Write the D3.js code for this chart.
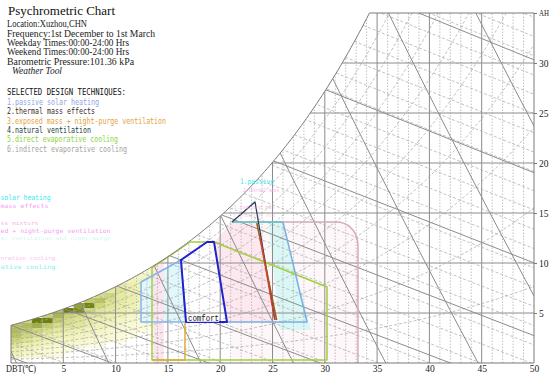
<!DOCTYPE html>
<html><head><meta charset="utf-8">
<script src="https://cdn.jsdelivr.net/npm/d3@7"></script>
<style>body{margin:0;background:#fff;}svg{display:block;}</style>
</head><body>
<svg id="c" width="550" height="377"></svg>
<script>
// ---------------- DATA ----------------
const titleText = "Psychrometric Chart";
const infoLines = ["Location:Xuzhou,CHN","Frequency:1st December to 1st March","Weekday Times:00:00-24:00 Hrs","Weekend Times:00:00-24:00 Hrs","Barometric Pressure:101.36 kPa"];
const toolText = "Weather Tool";
const techHeader = "SELECTED DESIGN TECHNIQUES:";
const techniques = ["1.passive solar heating","2.thermal mass effects","3.exposed mass + night-purge ventilation","4.natural ventilation","5.direct evaporative cooling","6.indirect evaporative cooling"];
const dbtTicks = [5,10,15,20,25,30,35,40,45,50];
const ahTicks = [5,10,15,20,25,30,35];
const ahTickLabels = ["5","10","15","20","25","30","AH"];
const pressure = 101.36;               // kPa
const rhLevels = [10,20,30,40,50,60,70,80,90];
const satTempMajor = [-15,-10,-5,0,5,10,15,20,25,30,35,40,45];   // solid enthalpy lines (saturation temp)
const enthalpyMinor = d3.range(-20,200,5);                         // dashed enthalpy lines, kJ/kg
const volumeLevels = [0.775,0.8,0.825,0.85,0.875,0.9,0.925,0.95];

// hourly frequency bins (DBT lower edge 1°C, AH lower edge 0.5 g/kg)
const binT = [0,1,2,3,4,5,6,7,8,9,10,11,12,13,14,15];
const binW = [0.5,1.0,1.5,2.0,2.5,3.0,3.5,4.0,4.5,5.0,5.5,6.0,6.5,7.0,7.5,8.0,8.5,9.0];
const hours = [
 [6,4,3,2,1,0,0,0,0,0,0,0,0,0,0,0],
 [9,6,4,3,2,1,0,0,0,0,0,0,0,0,0,0],
 [12,9,7,5,4,3,2,1,1,0,0,0,0,0,0,0],
 [18,14,10,8,6,5,4,3,2,1,1,0,0,0,0,0],
 [24,18,14,10,9,7,6,5,4,3,2,1,0,0,0,0],
 [26,22,18,15,12,10,8,6,5,4,3,2,1,0,0,0],
 [24,26,30,22,16,14,12,9,7,5,4,3,2,1,0,0],
 [0,18,44,46,22,16,14,11,9,7,5,4,3,2,1,0],
 [0,0,0,20,28,20,16,13,11,9,7,5,4,3,2,0],
 [0,0,0,0,24,44,40,18,13,11,9,7,5,4,3,1],
 [0,0,0,0,0,0,34,42,18,13,10,8,6,4,3,1],
 [0,0,0,0,0,0,0,22,24,15,11,9,7,5,3,2],
 [0,0,0,0,0,0,0,0,16,18,11,9,7,5,4,2],
 [0,0,0,0,0,0,0,0,0,11,13,9,7,5,4,2],
 [0,0,0,0,0,0,0,0,0,0,9,9,7,5,4,2],
 [0,0,0,0,0,0,0,0,0,0,0,7,7,5,4,2],
 [0,0,0,0,0,0,0,0,0,0,0,0,5,5,4,2],
 [0,0,0,0,0,0,0,0,0,0,0,0,0,4,4,2]
];

// design zones [DBT °C, AH g/kg]
const comfortZone = [[16.25,10.3],[18.74,12.1],[19.41,12.1],[20.65,4.1],[16.73,4.1]];
const passiveSolarZone = [[12.43,4.1],[12.43,8.1],[16.25,10.3],[16.73,4.1]];
const passiveSolarRight = [[21.13,14.1],[26.0,14.1],[28.3,4.1],[20.65,4.1]];
const thermalMassEdge = [[23.5,14.0],[25.4,4.3]];
const exposedMassEdge = [[23.8,12.7],[25.2,4.3]];
const exposedMassLeft = [[16.63,4.0],[16.63,0.3],[13.48,0.3]];
const naturalVentZone = [[21.13,14.1],[23.33,16.1],[25.24,4.3]];
const directEvapZone = [[13.48,0.3],[13.48,9.5],[17.11,12.1],[19.41,12.1],[30.21,7.6],[30.21,0.3]];
const indirectEvap = {left:21.13,right:33.17,top:14.1,rT:2.0,rW:2.3};
const pinkShade = [[21.13,14.1],[23.5,14.1],[25.4,4.1],[20.65,4.1],[19.41,12.1]];
const cyanShade = [[24.6,14.1],[26.0,14.1],[28.7,3.3],[25.7,3.3]];
const pinkBand = [[13.6,0],[13.6,9.7],[14.6,10.0],[14.6,0]];

// ---------------- PSYCHROMETRICS ----------------
const pws = T => 0.61078*Math.exp(17.27*T/(T+237.3));
const wFromPw = pw => 622*pw/(pressure-pw);
const wsat = T => wFromPw(pws(T));
const enth = (T,w) => 1.006*T + (w/1000)*(2501+1.86*T);
const wFromH = (T,h) => (h-1.006*T)/(2501+1.86*T)*1000;
const wFromV = (T,v) => ((v*pressure/(0.287042*(T+273.15)))-1)/1.6078*1000;

// ---------------- SCALES ----------------
const x = d3.scaleLinear().domain([0,50]).range([11,534]);
const y = d3.scaleLinear().domain([0,35]).range([363,13]);
const line = d3.line().x(d=>x(d[0])).y(d=>y(d[1]));
const svg = d3.select("#c");
svg.append("rect").attr("width",550).attr("height",377).attr("fill","#fff");

let lo=20, hi=50; for(let i=0;i<60;i++){const m=(lo+hi)/2; if(wsat(m)<35) lo=m; else hi=m;}
const Ttop = lo;
const satPts = d3.range(0,Ttop,0.25).map(T=>[T,wsat(T)]).concat([[Ttop,35]]);
const defs = svg.append("defs");
defs.append("clipPath").attr("id","clip").append("path")
  .attr("d", line(satPts.concat([[50,35],[50,0],[0,0]]))+"Z");
const g = svg.append("g").attr("clip-path","url(#clip)");

// frequency cells
const cellColor = d3.scaleLinear().domain([1,8,20,44]).range(["#fbfbdf","#eff1b2","#c9d272","#6c7e0c"]).clamp(true);
hours.forEach((row,i)=>row.forEach((v,j)=>{
  if(v<=0) return;
  const T=binT[j], w=binW[i];
  g.append("rect").attr("x",x(T)).attr("y",y(w+0.5)).attr("width",x(T+1)-x(T)).attr("height",y(w)-y(w+0.5))
   .attr("fill",cellColor(v));
}));

// zone shading
const poly = (pts,fill,op)=>g.append("path").attr("d",line(pts)+"Z").attr("fill",fill).attr("fill-opacity",op).attr("stroke","none");
const ie = indirectEvap;
const arcPts = d3.range(0,91,10).map(a=>{const r=a*Math.PI/180; return [ie.right-ie.rT+ie.rT*Math.sin(r), ie.top-ie.rW+ie.rW*Math.cos(r)];});
const indirectPts = [[ie.left,ie.top]].concat(arcPts).concat([[ie.right,0]]);
poly(indirectPts.concat([[ie.left,0]]),"#fef7f9",1);
poly(passiveSolarZone,"#e0f7fb",1);
poly(pinkBand,"#fbe6f0",1);
poly(pinkShade,"#fde8ef",1);
poly(cyanShade,"#dbf7f5",1);

// grid
const gridSolid = "#8c8c8c", gridDash = "#a8a8a8";
for(let T=1;T<50;T++){
  g.append("line").attr("x1",x(T)).attr("x2",x(T)).attr("y1",y(0)).attr("y2",y(35))
   .attr("stroke",T%5===0?gridSolid:gridDash).attr("stroke-width",T%5===0?1:0.7)
   .attr("stroke-dasharray",T%5===0?null:"1.5,1.5");
}
ahTicks.forEach(w=>{ if(w<35) g.append("line").attr("x1",x(0)).attr("x2",x(50)).attr("y1",y(w)).attr("y2",y(w)).attr("stroke",gridSolid).attr("stroke-width",1); });
rhLevels.forEach(rh=>{
  const pts = d3.range(0,50.01,0.5).map(T=>[T,wFromPw(rh/100*pws(T))]).filter(d=>d[1]<40);
  g.append("path").attr("d",line(pts)).attr("fill","none").attr("stroke",gridDash).attr("stroke-width",0.7).attr("stroke-dasharray","3,2");
});
enthalpyMinor.forEach(h=>{
  const pts = [[0,wFromH(0,h)],[50,wFromH(50,h)]];
  g.append("path").attr("d",line(pts)).attr("fill","none").attr("stroke",gridDash).attr("stroke-width",0.7).attr("stroke-dasharray","3,2");
});
satTempMajor.forEach(ts=>{
  const h = enth(ts,wsat(ts));
  const pts = [[0,wFromH(0,h)],[50,wFromH(50,h)]];
  g.append("path").attr("d",line(pts)).attr("fill","none").attr("stroke",gridSolid).attr("stroke-width",1);
});
volumeLevels.forEach(v=>{
  const pts = d3.range(0,50.01,1).map(T=>[T,wFromV(T,v)]);
  g.append("path").attr("d",line(pts)).attr("fill","none").attr("stroke",gridSolid).attr("stroke-width",1);
});

// zone outlines
const zl = svg.append("g").attr("clip-path","url(#clip)").attr("fill","none").attr("stroke-linejoin","round");
const outline=(pts,col,wd,closed)=>zl.append("path").attr("d",line(pts)+(closed?"Z":"")).attr("stroke",col).attr("stroke-width",wd);
outline(indirectPts,"#d4aab4",1.5,false);
outline(directEvapZone,"#a3cf3a",1.5,true);
outline(exposedMassLeft,"#e0aa3a",1.5,false);
outline(passiveSolarZone,"#86b4ea",1.5,true);
outline(passiveSolarRight.slice(0,2),"#5cc6cc",1.5,false);
outline(passiveSolarRight.slice(1),"#7aaee4",1.5,false);
outline(naturalVentZone,"#2a3d58",1.3,false);
outline(thermalMassEdge,"#9a5a1c",1.5,false);
outline(exposedMassEdge,"#d8402c",1.2,false);
outline(comfortZone,"#2222cc",2,true);

// frame
svg.append("path").attr("d",line(satPts.concat([[50,35],[50,0],[0,0]]))+"Z")
  .attr("fill","none").attr("stroke","#7a7a7a").attr("stroke-width",1);

// axes
const ax = svg.append("g").attr("transform",`translate(0,${y(0)})`)
  .call(d3.axisBottom(x).tickValues(dbtTicks).tickSize(0).tickPadding(2).tickFormat(d3.format("d")));
ax.select(".domain").remove();
ax.selectAll("text").attr("font-family","Liberation Serif").attr("font-size",9.5).attr("fill","#222");
const ay = svg.append("g").attr("transform",`translate(${x(50)},0)`)
  .call(d3.axisRight(y).tickValues(ahTicks).tickSize(3).tickPadding(2).tickFormat((d,i)=>ahTickLabels[i]));
ay.select(".domain").remove();
ay.selectAll("line").attr("stroke","#7a7a7a");
ay.selectAll("text").attr("font-family","Liberation Serif").attr("font-size",9.5).attr("fill","#222")
  .filter(d=>d===35).attr("textLength",10).attr("lengthAdjust","spacingAndGlyphs").attr("font-size",8.5);
svg.append("text").attr("x",6).attr("y",372).attr("font-family","Liberation Serif").attr("font-size",9.5)
  .attr("textLength",30).attr("lengthAdjust","spacingAndGlyphs").attr("fill","#222").text("DBT(℃)");

// comfort label
svg.append("rect").attr("x",187).attr("y",314).attr("width",32).attr("height",8).attr("fill","#fff").attr("fill-opacity",0.8);
svg.append("text").attr("x",188).attr("y",321).attr("font-family","Liberation Mono").attr("font-size",8.5)
  .attr("textLength",31).attr("lengthAdjust","spacingAndGlyphs").attr("fill","#111").text("comfort");

// faint zone labels (visible parts)
const faint = [
 {t:"1.passive",x:240,y:184,c:"#3de3f0",s:7.5,o:1,w:34},
 {t:"2.thermal mass",x:243,y:192,c:"#f59be8",s:5.5,o:0.8,w:36},
 {t:"3.exposed mas",x:233,y:209,c:"#f6a6d8",s:5.5,o:0.7,w:42},
 {t:"6.indirect eva",x:233,y:217,c:"#f6b0d0",s:5.5,o:0.6,w:42},
 {t:"solar heating",x:0.5,y:200,c:"#40e8f4",s:7.5,o:1,w:50},
 {t:"mass effects",x:0.5,y:208,c:"#f07ef0",s:6,o:0.8,w:48},
 {t:"ss mixture",x:0.5,y:225,c:"#f6a0e0",s:5.5,o:0.8,w:38},
 {t:"ed + night-purge ventilation",x:0.5,y:233,c:"#f080f0",s:6,o:0.8,w:110},
 {t:"al ventilation and night-purge",x:0.5,y:240,c:"#a8eef4",s:5,o:0.6,w:110},
 {t:"orative cooling",x:0.5,y:260,c:"#f6a6e6",s:5.5,o:0.7,w:55},
 {t:"ative cooling",x:0.5,y:269,c:"#60e8f0",s:6,o:0.8,w:55}
];
faint.forEach(f=>svg.append("text").attr("x",f.x).attr("y",f.y)
  .attr("font-family","DejaVu Sans Mono").attr("font-size",f.s).attr("fill",f.c).attr("fill-opacity",f.o)
  .attr("textLength",f.w).attr("lengthAdjust","spacingAndGlyphs").text(f.t));

// header text
svg.append("text").attr("x",8).attr("y",15).attr("font-family","Liberation Serif").attr("font-size",12.5)
  .attr("textLength",107).attr("lengthAdjust","spacingAndGlyphs").attr("fill","#111").text(titleText);
const infoY=[27.3,36.6,46,55,64.6], infoW=[80,148,122,122,127];
infoLines.forEach((t,i)=>svg.append("text").attr("x",7).attr("y",infoY[i]).attr("font-family","Liberation Serif").attr("font-size",9.3)
  .attr("textLength",infoW[i]).attr("lengthAdjust","spacingAndGlyphs").attr("fill","#222").text(t));
svg.append("text").attr("x",12).attr("y",74).attr("font-family","Liberation Serif").attr("font-style","italic").attr("font-size",9.3)
  .attr("textLength",50).attr("lengthAdjust","spacingAndGlyphs").attr("fill","#222").text(toolText);
svg.append("text").attr("x",7).attr("y",95).attr("font-family","DejaVu Sans Mono").attr("font-size",8)
  .attr("textLength",119).attr("lengthAdjust","spacingAndGlyphs").attr("fill","#111").text(techHeader);
const techColors=["#8fa6e2","#3b2a1c","#e6a040","#1e3a44","#8ed43e","#a8a0a0"];
const techY=[104.8,114.1,123.5,132.8,142.1,151.5], techW=[92,88,159,84,111,120];
techniques.forEach((t,i)=>svg.append("text").attr("x",7).attr("y",techY[i]).attr("font-family","DejaVu Sans Mono").attr("font-size",8)
  .attr("textLength",techW[i]).attr("lengthAdjust","spacingAndGlyphs").attr("fill",techColors[i]).text(t));
</script>
</body></html>
